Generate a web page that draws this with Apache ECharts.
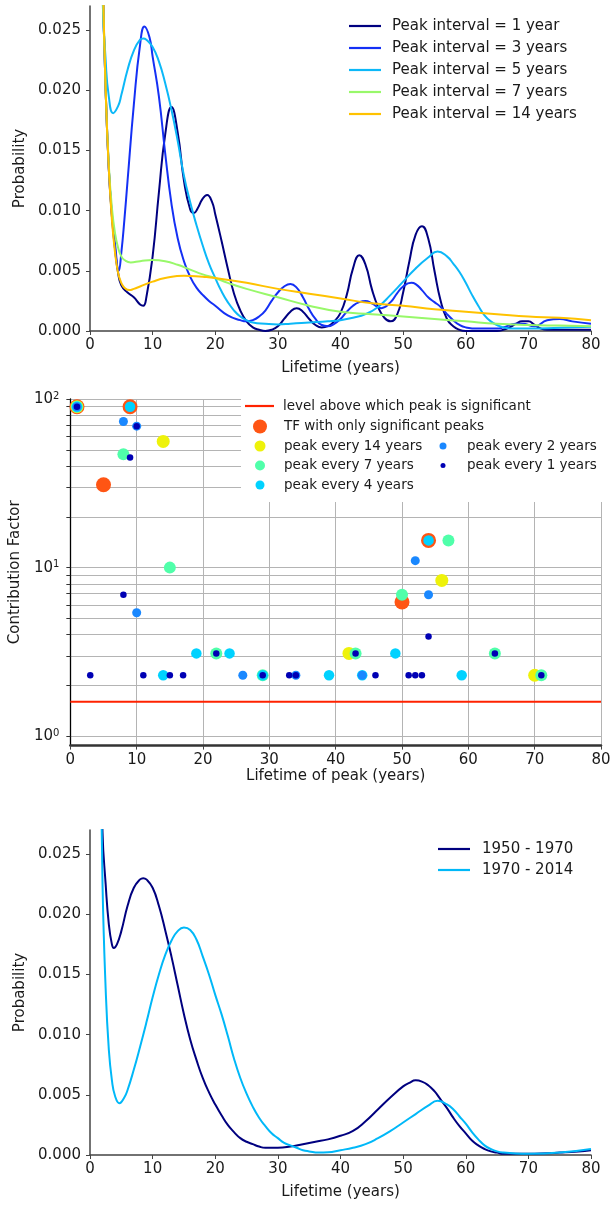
<!DOCTYPE html>
<html>
<head>
<meta charset="utf-8">
<script src="https://cdn.jsdelivr.net/npm/echarts@6/dist/echarts.min.js"></script>
<style>
html, body { margin: 0; padding: 0; background: #fff; }
#chart { width: 614px; height: 1205px; }
</style>
</head>
<body>
<div id="chart"></div>
<script>
// ---- data: top panel (probability vs lifetime, per peak interval) ----
const int1 = [[1.5,0.045],[2,0.03],[2.5,0.02],[3,0.0135],[3.5,0.0095],[4,0.0068],[4.5,0.0048],[5,0.0038],[6,0.0032],[7,0.0028],[8,0.0022],[8.5,0.0021],[9,0.0028],[10,0.0062],[11,0.0115],[12,0.0163],[13,0.0186],[14,0.0165],[15,0.0125],[16,0.0101],[16.6,0.0098],[17.2,0.0102],[18,0.011],[18.7,0.0113],[19.5,0.0107],[20,0.0097],[21,0.0075],[22,0.0052],[23,0.0031],[24,0.0017],[25,0.0008],[26,0.0003],[27,0.0001],[28,0],[29,0.0001],[30,0.0004],[31,0.001],[32,0.0016],[33,0.0019],[34,0.0016],[35,0.001],[36,0.0005],[37,0.0003],[38,0.0004],[39,0.0008],[40,0.0015],[41,0.003],[42,0.0052],[43,0.0063],[44,0.0055],[45,0.0035],[46,0.002],[47,0.0011],[48,0.0008],[49,0.0013],[50,0.0032],[51,0.0058],[52,0.008],[53,0.0087],[54,0.0077],[55,0.005],[56,0.0025],[57,0.001],[58,0.0004],[59,0.0001],[60,0],[65,0],[66,0.0001],[67,0.0003],[68,0.0006],[69,0.0008],[70,0.0008],[71,0.0005],[72,0.0002],[73,0.0001],[76,0.0001],[80,0.0001]];
const int3 = [[1.5,0.045],[2,0.03],[2.5,0.02],[3,0.0135],[3.5,0.0097],[4,0.0072],[4.6,0.005],[5,0.0065],[5.5,0.0093],[6,0.0125],[7,0.0188],[8,0.0238],[8.7,0.0253],[9.5,0.0244],[10,0.0228],[11,0.0195],[12,0.0148],[13,0.0106],[14,0.0077],[15,0.0058],[16,0.0045],[17,0.0036],[18,0.003],[19,0.0025],[20,0.0021],[22,0.0013],[24,0.0009],[25,0.0008],[26,0.0009],[27,0.0012],[28,0.0017],[29,0.0025],[30,0.0032],[31,0.0037],[32,0.0039],[33,0.0036],[34,0.0028],[35,0.0018],[36,0.001],[37,0.0005],[38,0.0004],[39,0.0006],[40,0.001],[41,0.0016],[42,0.0021],[43,0.0024],[44,0.0025],[45,0.0023],[46.5,0.0019],[48,0.0024],[49,0.0031],[50,0.0037],[51.3,0.004],[52,0.0039],[53,0.0034],[54,0.0028],[55,0.0024],[56,0.002],[57,0.0014],[58,0.0009],[59,0.0005],[60,0.0003],[62,0.0002],[65,0.0002],[66,0.0003],[68,0.0006],[69,0.0006],[71,0.0004],[73,0.0009],[75,0.001],[77,0.0008],[80,0.0006]];
const int5 = [[1.5,0.045],[2,0.028],[2.5,0.0225],[3,0.0195],[3.7,0.0181],[4.5,0.0187],[5,0.0196],[6,0.0217],[7,0.0233],[8,0.0242],[8.5,0.0243],[9,0.0242],[10,0.0236],[11,0.0224],[12,0.0206],[13,0.0184],[14,0.0158],[15,0.0129],[16,0.0107],[17,0.0088],[18,0.0071],[19,0.0056],[20,0.0044],[21,0.0033],[22,0.0024],[23,0.0017],[24,0.0012],[25,0.0009],[26,0.0007],[28,0.0006],[30,0.00055],[32,0.0006],[35,0.0007],[38,0.0008],[40,0.0009],[42,0.0011],[44,0.0014],[46,0.002],[48,0.003],[50,0.0041],[52,0.0052],[54,0.0061],[55.5,0.0066],[57,0.0062],[58,0.0056],[59,0.0049],[60,0.004],[61,0.003],[62,0.0021],[63,0.0013],[64,0.0008],[65,0.0005],[66,0.0003],[68,0.0002],[70,0.0002],[75,0.00027],[80,0.00035]];
const int7 = [[1.5,0.045],[2,0.03],[2.5,0.02],[3,0.0138],[3.5,0.0102],[4,0.0081],[4.5,0.0069],[5,0.0062],[5.5,0.0059],[6.5,0.0057],[8,0.0058],[10,0.0059],[12,0.0058],[14,0.0055],[16,0.0051],[18,0.0047],[20,0.0044],[22,0.004],[25,0.0035],[30,0.0028],[35,0.0021],[40,0.0016],[45,0.0014],[50,0.0012],[55,0.001],[60,0.0008],[65,0.0006],[70,0.0005],[75,0.00045],[80,0.0004]];
const int14 = [[1.5,0.045],[2,0.031],[2.5,0.02],[3,0.0135],[3.5,0.0092],[4,0.0065],[4.5,0.0048],[5,0.004],[5.5,0.0036],[6.3,0.0034],[7,0.0035],[8,0.0037],[10,0.0041],[12,0.0044],[15,0.0046],[18,0.0045],[20,0.0044],[25,0.004],[30,0.0035],[35,0.0031],[40,0.0027],[45,0.0023],[50,0.0021],[55,0.0018],[60,0.0016],[65,0.0014],[70,0.0012],[75,0.0011],[80,0.0009]];

// ---- data: middle panel (contribution factor vs lifetime of peak) ----
const sigLevel = [[0,1.6],[80,1.6]];
const tfPeaks = [[1,90],[9,90],[5,31],[54,14.5],[50,6.25]];
const every14 = [[1,90],[14,56],[56,8.4],[42,3.1],[70,2.3]];
const every7 = [[1,90],[8,47],[15,10],[22,3.1],[29,2.3],[43,3.1],[50,6.9],[57,14.5],[64,3.1],[71,2.3]];
const every4 = [[1,90],[9,90],[14,2.3],[19,3.1],[24,3.1],[29,2.3],[39,2.3],[44,2.3],[49,3.1],[54,14.5],[59,2.3]];
const every2 = [[1,90],[8,73.5],[10,69],[10,5.4],[26,2.3],[34,2.3],[44,2.3],[52,11],[54,6.9]];
const every1 = [[1,90],[10,69],[9,45],[8,6.9],[3,2.3],[11,2.3],[15,2.3],[17,2.3],[22,3.1],[29,2.3],[33,2.3],[34,2.3],[43,3.1],[46,2.3],[51,2.3],[52,2.3],[53,2.3],[54,3.9],[64,3.1],[71,2.3]];

// ---- data: bottom panel (two periods) ----
const p1950 = [[1.5,0.04],[2,0.0268],[2.5,0.0225],[3,0.0192],[3.5,0.0175],[3.8,0.0172],[4.3,0.0175],[5,0.0186],[6,0.0207],[7,0.0222],[8,0.0229],[8.5,0.023],[9,0.0229],[10,0.0222],[11,0.0207],[12,0.0187],[13,0.0165],[14,0.0141],[15,0.0117],[16,0.0096],[17,0.0079],[18,0.0064],[19,0.0052],[20,0.0042],[21,0.0033],[22,0.0025],[23,0.0019],[24,0.0014],[25,0.0011],[26,0.0009],[27,0.0007],[28,0.0006],[30,0.0006],[32,0.0007],[34,0.0009],[36,0.0011],[38,0.0013],[40,0.0016],[42,0.002],[44,0.0028],[46,0.0038],[48,0.0048],[50,0.0057],[51,0.006],[52,0.0062],[53,0.0061],[54,0.0058],[55,0.0053],[56,0.0046],[57,0.0039],[58,0.0031],[59,0.0024],[60,0.0018],[61,0.0012],[62,0.0008],[63,0.0005],[64,0.0003],[65,0.0002],[66,0.0001],[70,0.0001],[72,0.00012],[75,0.0002],[78,0.0003],[80,0.0004]];
const p1970 = [[1.5,0.04],[2,0.0225],[2.5,0.0138],[3,0.0088],[3.5,0.0062],[4,0.0049],[4.7,0.0043],[5.5,0.0048],[6,0.0054],[7,0.0071],[8,0.009],[9,0.011],[10,0.0131],[11,0.015],[12,0.0166],[13,0.0178],[14,0.0186],[15,0.0189],[16,0.0187],[17,0.0179],[18,0.0165],[19,0.015],[20,0.0133],[21,0.0117],[22,0.0099],[23,0.008],[24,0.0064],[25,0.0051],[26,0.004],[27,0.0031],[28,0.0024],[29,0.0018],[30,0.0014],[31,0.001],[32,0.0008],[33,0.0006],[34,0.0004],[35,0.0003],[36.5,0.0002],[38,0.00022],[40,0.0004],[42,0.0006],[44,0.0009],[46,0.0014],[48,0.002],[50,0.0027],[52,0.0034],[54,0.0041],[55.5,0.0045],[57,0.0042],[58,0.0038],[59,0.0032],[60,0.0026],[61,0.0019],[62,0.0013],[63,0.0008],[64,0.0005],[65,0.0003],[66,0.0002],[68,0.00012],[70,0.0001],[75,0.0002],[80,0.0005]];

// tick values
const probTicks = [0, 0.005, 0.01, 0.015, 0.02, 0.025];
const cfTicks = [1,2,3,4,5,6,7,8,9,10,20,30,40,50,60,70,80,90,100];
const cfLabels = [1, 10, 100];

const FONT = 'DejaVu Sans';
const TXT = '#1a1a1a';
const LINE_ICON = 'path://M0,0L32,0L32,2.2L0,2.2Z';
let chart = echarts.init(document.getElementById('chart'));

function lifeAxis(gridIndex, name, nameGap, middle) {
    return {
        type: 'value', gridIndex: gridIndex, min: 0, max: 80, interval: 10,
        name: name, nameLocation: 'middle', nameGap: nameGap,
        nameTextStyle: {fontFamily: FONT, fontSize: 15, color: TXT},
        axisLine: {show: true, lineStyle: {color: middle ? '#333' : '#444', width: middle ? 2.5 : 1.5}},
        axisTick: {show: true, length: 4, lineStyle: {color: '#444'}},
        axisLabel: {fontFamily: FONT, fontSize: 15, color: TXT, margin: 7},
        splitLine: {show: middle, lineStyle: {color: '#b4b4b4', width: 1}}
    };
}

function probAxis(gridIndex) {
    return {
        type: 'value', gridIndex: gridIndex, min: 0, max: 0.027,
        name: 'Probability', nameLocation: 'middle', nameGap: 59,
        nameTextStyle: {fontFamily: FONT, fontSize: 15, color: TXT},
        axisLine: {show: true, lineStyle: {color: '#444', width: 1.5}},
        axisTick: {show: true, length: 4, customValues: probTicks, lineStyle: {color: '#444'}},
        axisLabel: {fontFamily: FONT, fontSize: 15, color: TXT, margin: 9, customValues: probTicks,
            formatter: v => v.toFixed(3)},
        splitLine: {show: false}
    };
}

function curve(name, data, color, axis) {
    return {
        name: name, type: 'line', xAxisIndex: axis, yAxisIndex: axis, data: data,
        smooth: 0.5, showSymbol: false, symbol: 'none',
        lineStyle: {color: color, width: 2}, itemStyle: {color: color}, clip: true
    };
}

function dots(name, data, color, size) {
    return {
        name: name, type: 'scatter', xAxisIndex: 1, yAxisIndex: 1, data: data,
        symbolSize: size, itemStyle: {color: color, opacity: 1}
    };
}

// one legend per row in the middle panel (icon size differs per row);
// circle icons: the box starts at the circle's left edge, so shift by half the size
function dotLegend(name, cx, cy, d) {
    return {
        data: [{name: name, icon: 'circle'}], left: cx - d / 2, top: cy - 8, orient: 'vertical', padding: 0,
        itemWidth: 30, itemHeight: d, z: 6,
        textStyle: {fontFamily: FONT, fontSize: 13.5, color: TXT, lineHeight: 16, padding: [0, 0, 0, 4]}
    };
}

function lineLegend(names, left, top, gap, pad, size, w) {
    return {
        data: names.map(n => ({name: n, icon: 'path://M0,0L' + w + ',0L' + w + ',2.2L0,2.2Z'})),
        orient: 'vertical', left: left, top: top, padding: 0, itemGap: gap,
        itemWidth: w, itemHeight: 16, z: 6,
        textStyle: {fontFamily: FONT, fontSize: size, color: TXT, lineHeight: 16, padding: [0, 0, 0, pad]}
    };
}

const C1 = '#000080', C3 = '#1430f5', C5 = '#0cb8f8', C7 = '#98f86a', C14 = '#ffc200';
const cTF = '#ff5514', cP14 = '#eef20a', cP7 = '#50ffaa', cP4 = '#00d2ff', cP2 = '#1a88ff', cP1 = '#0000b4';

let option = {
    animation: false,
    backgroundColor: '#fff',
    textStyle: {fontFamily: FONT},
    grid: [
        {left: 90, top: 6, width: 501, height: 325},
        {left: 67, top: 399, width: 534, height: 346.6},
        {left: 90, top: 830, width: 501, height: 325}
    ],
    xAxis: [
        lifeAxis(0, 'Lifetime (years)', 30, false),
        lifeAxis(1, 'Lifetime of peak (years)', 23, true),
        lifeAxis(2, 'Lifetime (years)', 30, false)
    ],
    yAxis: [
        probAxis(0),
        {
            type: 'log', logBase: 10, gridIndex: 1, min: 0.88, max: 100,
            name: 'Contribution Factor', nameLocation: 'middle', nameGap: 47,
            nameTextStyle: {fontFamily: FONT, fontSize: 15, color: TXT},
            axisLine: {show: true, lineStyle: {color: '#000', width: 1.3}},
            axisTick: {show: true, length: 4, customValues: cfTicks, lineStyle: {color: '#333'}},
            axisLabel: {
                customValues: cfLabels, margin: 11, color: TXT,
                formatter: v => '{b|10}{s|' + Math.round(Math.log10(v)) + '}',
                rich: {
                    b: {fontFamily: FONT, fontSize: 15, lineHeight: 16, verticalAlign: 'middle', color: TXT},
                    s: {fontFamily: FONT, fontSize: 10, lineHeight: 10, verticalAlign: 'top', color: TXT}
                }
            },
            splitLine: {show: true, lineStyle: {color: '#b4b4b4', width: 1}}
        },
        probAxis(2)
    ],
    legend: [
        lineLegend(['Peak interval = 1 year', 'Peak interval = 3 years', 'Peak interval = 5 years',
            'Peak interval = 7 years', 'Peak interval = 14 years'], 349, 18, 6, 6, 15, 32),
        lineLegend(['level above which peak is significant'], 245, 398, 0, 4, 13.5, 29),
        dotLegend('TF with only significant peaks', 260, 426.5, 14),
        dotLegend('peak every 14 years', 260, 446, 11),
        dotLegend('peak every 7 years', 260, 465.5, 10),
        dotLegend('peak every 4 years', 260, 485, 9),
        dotLegend('peak every 2 years', 443, 446, 7),
        dotLegend('peak every 1 years', 443, 465.5, 5),
        lineLegend(['1950 - 1970', '1970 - 2014'], 438, 841, 5, 7, 15, 32)
    ],
    graphic: [
        {type: 'rect', left: 241, top: 396, shape: {width: 362, height: 106}, style: {fill: '#fff'}, z: 3, silent: true}
    ],
    series: [
        curve('Peak interval = 1 year', int1, C1, 0),
        curve('Peak interval = 3 years', int3, C3, 0),
        curve('Peak interval = 5 years', int5, C5, 0),
        curve('Peak interval = 7 years', int7, C7, 0),
        curve('Peak interval = 14 years', int14, C14, 0),
        {
            name: 'level above which peak is significant', type: 'line', xAxisIndex: 1, yAxisIndex: 1,
            data: sigLevel, showSymbol: false, symbol: 'none',
            lineStyle: {color: '#ff2200', width: 2}, itemStyle: {color: '#ff2200'}
        },
        dots('TF with only significant peaks', tfPeaks, cTF, 15),
        dots('peak every 14 years', every14, cP14, 13),
        dots('peak every 7 years', every7, cP7, 12),
        dots('peak every 4 years', every4, cP4, 10.5),
        dots('peak every 2 years', every2, cP2, 9),
        dots('peak every 1 years', every1, cP1, 6.5),
        curve('1950 - 1970', p1950, '#00007f', 2),
        curve('1970 - 2014', p1970, '#00b8f8', 2)
    ]
};

chart.setOption(option);
</script>
</body>
</html>
